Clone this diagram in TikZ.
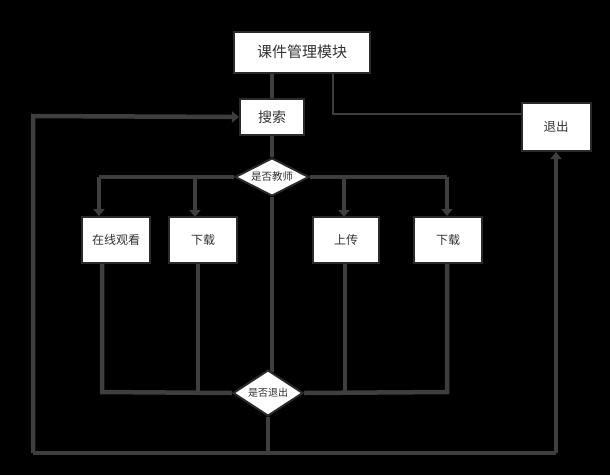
\documentclass[tikz,border=0pt]{standalone}
\usepackage{fontspec}
\setmainfont{Noto Sans CJK SC}
\usetikzlibrary{arrows.meta,shapes.geometric,backgrounds}
\definecolor{ln}{HTML}{3E3E3E}
\definecolor{bd}{HTML}{2A2A2A}
\definecolor{tx}{HTML}{333333}
\tikzset{
  box/.style={draw=bd,line width=2pt,fill=white,inner sep=0pt,text=tx},
  dia/.style={diamond,draw=bd,line width=2pt,fill=white,inner sep=0pt,aspect=1.9,text=tx},
  conn/.style={draw=ln,line width=4.5pt},
  arr/.style={conn,-{Triangle[length=7pt,width=11pt]}},
}
\begin{document}
\begin{tikzpicture}[x=1pt,y=-1pt]
\useasboundingbox (0,0) rectangle (610,475);
\node[box,minimum width=136pt,minimum height=41pt,font=\fontsize{15}{17}\selectfont] (top) at (302,52) {课件管理模块};
\node[box,minimum width=64pt,minimum height=36pt,font=\fontsize{14}{16}\selectfont] (search) at (272,117) {搜索};
\node[box,minimum width=69pt,minimum height=48pt,font=\fontsize{12.5}{14}\selectfont] (exit) at (556,127) {退出};
\node[dia,minimum width=74pt,minimum height=38pt,font=\fontsize{10.5}{12}\selectfont] (d1) at (272,177) {是否教师};
\node[box,minimum width=68pt,minimum height=46pt,font=\fontsize{12}{14}\selectfont] (zx) at (116,240) {在线观看};
\node[box,minimum width=68pt,minimum height=46pt,font=\fontsize{12}{14}\selectfont] (xz1) at (203,240) {下载};
\node[box,minimum width=66pt,minimum height=46pt,font=\fontsize{12}{14}\selectfont] (sc) at (346,240) {上传};
\node[box,minimum width=68pt,minimum height=46pt,font=\fontsize{12}{14}\selectfont] (xz2) at (448,240) {下载};
\node[dia,minimum width=70pt,minimum height=46pt,font=\fontsize{10}{12}\selectfont] (d2) at (268,393) {是否退出};
\coordinate (tr) at (333,73);
\coordinate (trc) at (333,114);
\coordinate (bl) at (33,453);
\coordinate (br) at (556,453);
\coordinate (lt) at (33,116);
\coordinate (bm) at (268,453);
\coordinate (bz) at (102,392);
\coordinate (bx) at (447,392);
\begin{pgfonlayer}{background}
\fill[black] (0,0) rectangle (610,475);
\draw[conn] (search.north |- top.south) -- (search.north);
\draw[conn,line width=2.5pt] (tr) -- (trc) -- (trc -| exit.west);
\draw[conn] (search.south) -- (d1.north);
\draw[conn] (d1.west) -- (d1.west -| 99,0) coordinate (l1);
\draw[arr] (l1) -- (l1 |- zx.north);
\draw[arr] (195,177) -- (195,217);
\draw[conn] (d1.east) -- (d1.east -| 447,0) coordinate (r1);
\draw[arr] (r1) -- (r1 |- xz2.north);
\draw[arr] (344,177) -- (344,217);
\draw[conn] (d1.south) -- (272,372);
\draw[conn] (zx.south -| bz) -- (bz) -- (d2.west);
\draw[conn] (198,263) -- (198,392);
\draw[conn] (345,263) -- (345,392);
\draw[conn] (xz2.south -| bx) -- (bx) -- (d2.east);
\draw[conn] (d2.south) -- (bm);
\draw[conn] (br) -- (bl);
\draw[arr] (bl) -- (lt) -- (search.west);
\draw[arr] (br) -- (exit.south);
\end{pgfonlayer}
\end{tikzpicture}
\end{document}
